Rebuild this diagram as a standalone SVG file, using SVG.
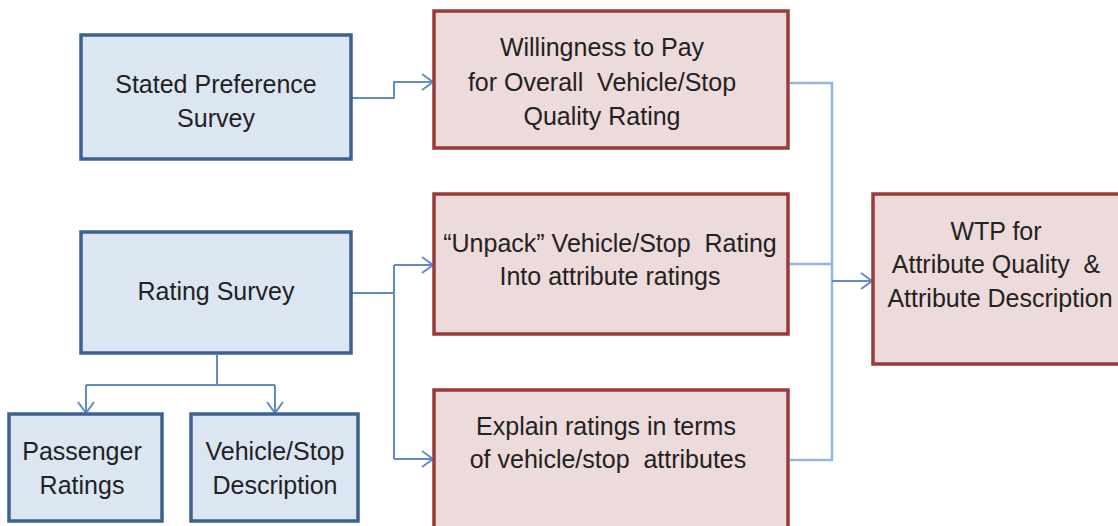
<svg xmlns="http://www.w3.org/2000/svg" width="1118" height="526" viewBox="0 0 1118 526">
<style>
.blue{fill:#dce6f2;stroke:#3d6190;stroke-width:3.5}
.red{fill:#eddada;stroke:#9b3a38;stroke-width:3.5}
text{font-family:"Liberation Sans",Arial,sans-serif;font-size:25px;fill:#222;text-anchor:middle;white-space:pre}
.c{fill:none;stroke:#5f8cc6;stroke-width:2}
.c2{fill:none;stroke:#93b5df;stroke-width:2.5}
</style>
<defs>
<marker id="ah" markerUnits="userSpaceOnUse" markerWidth="14" markerHeight="20" refX="12" refY="9" orient="auto" viewBox="0 0 14 18">
<path d="M1,1 L12,9 L1,17" fill="none" stroke="#5f8cc6" stroke-width="2"/>
</marker>
</defs>
<rect width="1118" height="526" fill="#fff"/>
<g id="connectors">
<path class="c" d="M352,98 H394 V82 H433" marker-end="url(#ah)"/>
<path class="c" d="M352,293 H394"/>
<path class="c" d="M394,265 V459"/>
<path class="c" d="M394,265 H433" marker-end="url(#ah)"/>
<path class="c" d="M394,459 H433" marker-end="url(#ah)"/>
<path class="c" d="M217,355 V385"/>
<path class="c" d="M86,385 H275"/>
<path class="c" d="M86,385 V413" marker-end="url(#ah)"/>
<path class="c" d="M275,385 V413" marker-end="url(#ah)"/>
<path class="c2" d="M790,83 H832 V460 H790"/>
<path class="c2" d="M790,264 H832"/>
<path class="c" d="M832,281 H872" marker-end="url(#ah)"/>
</g>
<g id="stated">
<rect class="blue" x="81" y="35" width="270" height="124"/>
<text x="216" y="93">Stated Preference</text>
<text x="216" y="127">Survey</text>
</g>
<g id="rating">
<rect class="blue" x="81" y="232" width="270" height="121"/>
<text x="216" y="300">Rating Survey</text>
</g>
<g id="passenger">
<rect class="blue" x="9" y="414" width="153" height="107"/>
<text x="82" y="460">Passenger</text>
<text x="82" y="494">Ratings</text>
</g>
<g id="vehicle">
<rect class="blue" x="191" y="414" width="167" height="107"/>
<text x="275" y="460">Vehicle/Stop</text>
<text x="275" y="494">Description</text>
</g>
<g id="wtp-overall">
<rect class="red" x="434" y="11" width="354" height="137"/>
<text x="602" y="56">Willingness to Pay</text>
<text x="602" y="91" xml:space="preserve">for Overall  Vehicle/Stop</text>
<text x="602" y="125">Quality Rating</text>
</g>
<g id="unpack">
<rect class="red" x="434" y="194" width="354" height="140"/>
<text x="610" y="252" xml:space="preserve">“Unpack” Vehicle/Stop  Rating</text>
<text x="610" y="285">Into attribute ratings</text>
</g>
<g id="explain">
<rect class="red" x="434" y="390" width="354" height="150"/>
<text x="606" y="435">Explain ratings in terms</text>
<text x="608" y="468" xml:space="preserve">of vehicle/stop  attributes</text>
</g>
<g id="wtp-attr">
<rect class="red" x="873" y="194" width="270" height="170"/>
<text x="996" y="240">WTP for</text>
<text x="996" y="273" xml:space="preserve">Attribute Quality  &amp;</text>
<text x="1000" y="307">Attribute Description</text>
</g>
</svg>
